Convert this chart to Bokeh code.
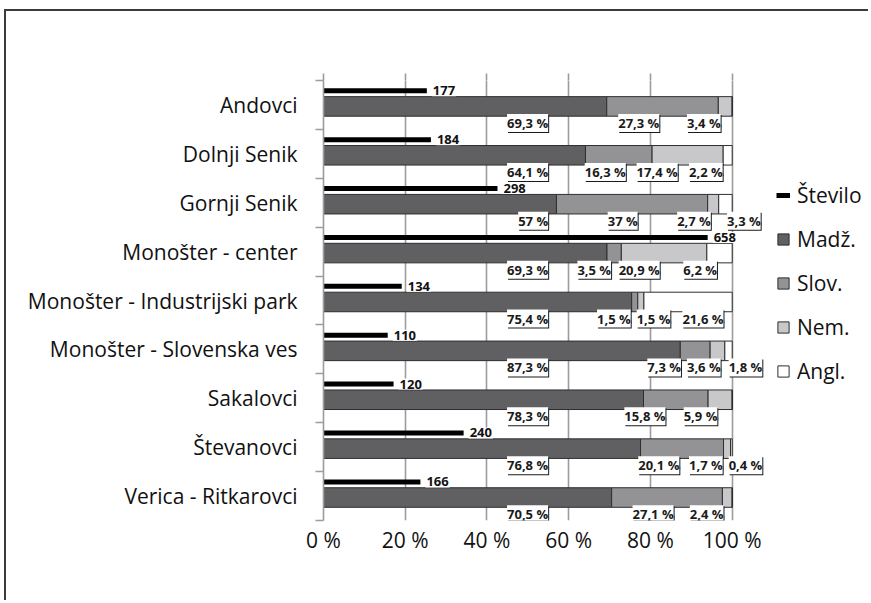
from bokeh.plotting import figure
from bokeh.models import (Range1d, FixedTicker, LinearAxis, Legend, LegendItem,
                          ColumnDataSource, CustomJSTickFormatter)
from bokeh.core.properties import value
from bokeh.embed import file_html
from bokeh.resources import INLINE

# ---------------- data ----------------
villages = ["Andovci", "Dolnji Senik", "Gornji Senik", "Monošter - center",
            "Monošter - Industrijski park", "Monošter - Slovenska ves",
            "Sakalovci", "Števanovci", "Verica - Ritkarovci"]
stevilo = [177, 184, 298, 658, 134, 110, 120, 240, 166]
madz = [69.3, 64.1, 57, 69.3, 75.4, 87.3, 78.3, 76.8, 70.5]
slov = [27.3, 16.3, 37, 3.5, 1.5, 7.3, 15.8, 20.1, 27.1]
nem = [3.4, 17.4, 2.7, 20.9, 1.5, 3.6, 5.9, 1.7, 2.4]
angl = [0, 2.2, 3.3, 6.2, 21.6, 1.8, 0, 0.4, 0]
series_labels = ["Madž.", "Slov.", "Nem.", "Angl."]
count_label = "Število"
x_ticks = [0, 20, 40, 60, 80, 100]
x_tick_labels = ["0 %", "20 %", "40 %", "60 %", "80 %", "100 %"]
count_axis_max = 700
# right edge of each percentage data label, in % of the axis
label_right = [
    [55.7, 82.9, 97.9, None],
    [55.7, 74.7, 87.4, 98.4],
    [55.7, 77.6, 95.5, 107.7],
    [55.7, 71.1, 83.0, 97.0],
    [55.7, 75.9, 85.6, 98.6],
    [55.7, 88.2, 97.9, 108.1],
    [55.7, 84.4, 97.1, None],
    [55.7, 87.8, 98.4, 108.1],
    [55.7, 86.4, 98.6, None],
]

# ---------------- styling ----------------
FONT = value("Open Sans")
COLORS = ["#606062", "#939396", "#c8c8ca", "#ffffff"]
GRID = "#9c9c9c"
COUNT_Y, BAR_Y, BAR_H, LABEL_Y = 0.21, 0.53, 0.40, 0.87
FRAME_W, FRAME_H = 547, 440
PX_PER_PCT = 4.087
X_END = FRAME_W / PX_PER_PCT
n = len(villages)

p = figure(x_range=Range1d(0, X_END), y_range=Range1d(n, 0),
           frame_width=FRAME_W, frame_height=FRAME_H,
           min_border_left=317, min_border_right=0, min_border_top=69,
           min_border_bottom=82, output_backend="svg", toolbar_location=None,
           background_fill_color="white", border_fill_color="white")
p.outline_line_color = None
# outer frame: only its left and top edges are inside the window
p.styles = {"box-shadow": "-2px -2px 0 0 #3c3c3c",
            "margin-left": "6px", "margin-top": "11px"}
p.extra_x_ranges = {"cnt": Range1d(0, X_END * count_axis_max / 100)}

# grid
p.xgrid.ticker = FixedTicker(ticks=x_ticks)
p.xgrid.grid_line_color = GRID
p.xgrid.grid_line_width = 1.6
p.ygrid.visible = False

# bottom axis
xa = p.xaxis[0]
xa.ticker = FixedTicker(ticks=x_ticks)
xa.major_label_overrides = {t: l for t, l in zip(x_ticks, x_tick_labels)}
xa.axis_line_color = None
xa.major_tick_line_color = None
xa.major_tick_out = 0
xa.major_tick_in = 0
xa.minor_tick_line_color = None
xa.major_label_text_font = "Open Sans"
xa.major_label_text_font_size = "21px"
xa.major_label_text_color = "#111111"
xa.major_label_standoff = 5

# top tick marks
top = LinearAxis(ticker=FixedTicker(ticks=x_ticks), axis_line_color=None,
                 major_tick_out=7, major_tick_in=0, major_tick_line_color=GRID,
                 major_tick_line_width=1.6, minor_tick_line_color=None,
                 formatter=CustomJSTickFormatter(code="return ''"),
                 major_label_text_font_size="1px")
p.add_layout(top, "above")

# left axis (categories)
ya = p.yaxis[0]
centers = [i + 0.5 for i in range(n)]
ya.ticker = FixedTicker(ticks=centers, minor_ticks=list(range(n + 1)))
ya.major_label_overrides = {c: v for c, v in zip(centers, villages)}
ya.major_tick_out = 0
ya.major_tick_in = 0
ya.minor_tick_out = 8
ya.minor_tick_in = 0
ya.minor_tick_line_color = GRID
ya.minor_tick_line_width = 1.6
ya.axis_line_color = GRID
ya.axis_line_width = 1.6
ya.major_label_text_font = "Open Sans"
ya.major_label_text_font_size = "21px"
ya.major_label_text_color = "#111111"
ya.major_label_standoff = 18

# stacked 100% bars
totals = [a + b + c + d for a, b, c, d in zip(madz, slov, nem, angl)]
src = ColumnDataSource(dict(
    y=[i + BAR_Y for i in range(n)],
    madz=[v / t * 100 for v, t in zip(madz, totals)],
    slov=[v / t * 100 for v, t in zip(slov, totals)],
    nem=[v / t * 100 for v, t in zip(nem, totals)],
    angl=[v / t * 100 for v, t in zip(angl, totals)],
))
stack = p.hbar_stack(["madz", "slov", "nem", "angl"], y="y", height=BAR_H,
                     fill_color=COLORS, line_color="#2e2e2e", line_width=1,
                     source=src)

# count bars (secondary scale 0..700)
csrc = ColumnDataSource(dict(y=[i + COUNT_Y for i in range(n)], n=stevilo,
                             zero=[0] * n, t=[str(v) for v in stevilo]))
seg = p.segment(x0="zero", y0="y", x1="n", y1="y", source=csrc,
                x_range_name="cnt", line_width=5, line_color="black")
p.text(x="n", y="y", text="t", source=csrc, x_range_name="cnt", x_offset=5,
       text_align="left", text_baseline="middle", text_font=FONT,
       text_font_style="bold", text_font_size="13px", text_color="#111111",
       background_fill_color="white", padding=1)

# percentage labels
series = [madz, slov, nem, angl]
lx, ly, lt = [], [], []
for i in range(n):
    for s in range(4):
        v = series[s][i]
        if v and label_right[i][s] is not None:
            lx.append(label_right[i][s])
            ly.append(i + LABEL_Y)
            lt.append(("%g" % v).replace(".", ",") + " %")
lsrc = ColumnDataSource(dict(x=lx, y=ly, t=lt))
common = dict(x="x", y="y", text="t", source=lsrc, text_align="right",
              text_baseline="middle", text_font=FONT, text_font_style="bold",
              text_font_size="13px", padding=0)
p.text(x_offset=-2, y_offset=1, text_color="#1a1a1a",
       background_fill_color="#1a1a1a", **common)
p.text(x_offset=-3, y_offset=0, text_color="#1a1a1a",
       background_fill_color="white", **common)

# legend
items = [LegendItem(label=count_label, renderers=[seg])]
for lbl, r in zip(series_labels, stack):
    items.append(LegendItem(label=lbl, renderers=[r]))
legend = Legend(items=items, location=(453, 135), orientation="vertical",
                glyph_width=14, glyph_height=14, label_standoff=7,
                spacing=16, padding=0, margin=0, border_line_color=None,
                background_fill_alpha=0, label_text_font="Open Sans",
                label_text_font_size="21px", label_text_color="#111111")
p.add_layout(legend)

open("out.html", "w").write(file_html(p, INLINE))
